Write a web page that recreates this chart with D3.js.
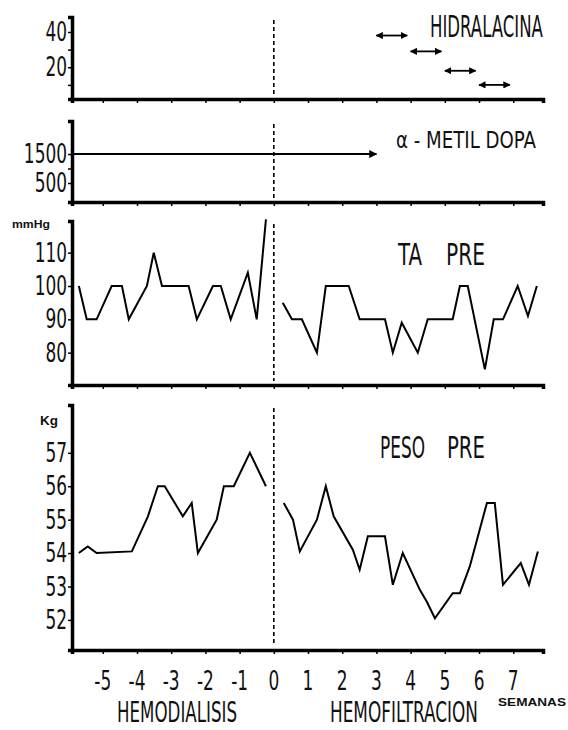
<!DOCTYPE html>
<html>
<head>
<meta charset="utf-8">
<script src="https://cdn.jsdelivr.net/npm/d3@7"></script>
<style>
  body { margin: 0; background: #fff; }
  svg text { font-family: "Liberation Sans Narrow", "DejaVu Sans Condensed", sans-serif; fill: #111; }
</style>
</head>
<body>
<svg id="chart"></svg>
<script>
const width = 568;
const height = 730;

// semanas (0 = paso de hemodialisis a hemofiltracion)
const weekTicks = [-5, -4, -3, -2, -1, 0, 1, 2, 3, 4, 5, 6, 7];

// hidralacina: cada flecha = una semana de tratamiento
const hidraStart = [3, 4, 5, 6];
const hidraEnd = [3.9, 4.9, 5.9, 6.9];
const hidraDose = [38, 29, 18, 10];

// alfa-metil dopa
const dopaStart = -5.9;
const dopaEnd = 3;
const dopaDose = 1500;

// TA pre (mmHg)
const taWeeksHD = [-5.7, -5.47, -5.18, -4.74, -4.44, -4.24, -3.71, -3.51, -3.27, -2.49, -2.25, -1.78, -1.55, -1.26, -0.76, -0.5, -0.23];
const taHD = [100, 90, 90, 100, 100, 90, 100, 110, 100, 100, 90, 100, 100, 90, 104, 90, 120];
const taWeeksHF = [0.26, 0.53, 0.82, 1.26, 1.52, 2.19, 2.51, 3.25, 3.48, 3.74, 4.21, 4.5, 5.23, 5.44, 5.67, 6.17, 6.43, 6.7, 7.13, 7.43, 7.69];
const taHF = [95, 90, 90, 80, 100, 100, 90, 90, 80, 89, 80, 90, 90, 100, 100, 75, 90, 90, 100, 91, 100];

// peso pre (Kg)
const pesoWeeksHD = [-5.7, -5.44, -5.18, -4.15, -3.68, -3.39, -3.19, -2.66, -2.4, -2.22, -1.67, -1.46, -1.17, -0.7, -0.23];
const pesoHD = [54, 54.2, 54, 54.05, 55.1, 56, 56, 55.1, 55.5, 54, 55, 56, 56, 57, 56];
const pesoWeeksHF = [0.29, 0.56, 0.76, 1.26, 1.52, 1.75, 2.31, 2.51, 2.75, 3.25, 3.48, 3.77, 4.27, 4.47, 4.71, 5.23, 5.44, 5.73, 6.23, 6.46, 6.7, 7.22, 7.46, 7.72];
const pesoHF = [55.5, 55, 54.05, 55, 56, 55.1, 54.1, 53.5, 54.5, 54.5, 53.05, 54, 52.9, 52.55, 52.05, 52.8, 52.8, 53.6, 55.5, 55.5, 53.05, 53.7, 53.05, 54.05];

// y ticks
const hidraTicks = [10, 20, 30, 40], hidraLabels = [20, 40];
const dopaTicks = [500, 1000, 1500], dopaLabels = [500, 1500];
const taTicks = [80, 90, 100, 110];
const pesoTicks = [52, 53, 54, 55, 56, 57];

const narrow = 0.7; // the original lettering is very condensed

const svg = d3.select("#chart").attr("width", width).attr("height", height);

const x = d3.scaleLinear().domain([-5.9, 7.87]).range([72, 543]);

const defs = svg.append("defs");
defs.append("marker").attr("id", "head")
  .attr("viewBox", "0 0 10 10").attr("refX", 9).attr("refY", 5)
  .attr("markerWidth", 4).attr("markerHeight", 4)
  .attr("orient", "auto-start-reverse")
  .append("path").attr("d", "M0,0L10,5L0,10z").attr("fill", "#000");

function makePanel(top, bottom, domain, ticks, labels) {
  const y = d3.scaleLinear().domain(domain).range([bottom, top]);
  const g = svg.append("g");

  // dashed divider at week 0
  g.append("line")
    .attr("x1", x(0)).attr("x2", x(0))
    .attr("y1", top + 3).attr("y2", bottom - 4)
    .attr("stroke", "#000").attr("stroke-width", 1.6)
    .attr("stroke-dasharray", "4,3");

  const yAxis = g.append("g")
    .attr("transform", `translate(${x.range()[0]},0)`)
    .call(d3.axisLeft(y).tickValues(ticks).tickSizeOuter(0).tickSize(4).tickPadding(3)
      .tickFormat(d => labels.includes(d) ? d : ""));
  yAxis.select(".domain").attr("stroke-width", 3.5);
  yAxis.selectAll(".tick line").attr("stroke-width", 1.5);
  yAxis.selectAll("text")
    .attr("font-size", 27).attr("fill", "#111")
    .attr("transform", `scale(${narrow},1)`);

  const xAxis = g.append("g")
    .attr("transform", `translate(0,${bottom})`)
    .call(d3.axisBottom(x).tickValues(weekTicks).tickSizeOuter(0).tickSize(4).tickFormat(""));
  xAxis.select(".domain").attr("stroke-width", 3.5);
  xAxis.selectAll(".tick line").attr("stroke-width", 1.5);

  return { g, y };
}

function drawSeries(panel, xs, ys) {
  const line = d3.line().x(d => x(d[0])).y(d => panel.y(d[1]));
  panel.g.append("path")
    .datum(d3.zip(xs, ys))
    .attr("d", line)
    .attr("fill", "none")
    .attr("stroke", "#000")
    .attr("stroke-width", 2)
    .attr("stroke-linejoin", "miter");
}

// text squeezed horizontally so it runs from x0 to x1
function title(str, x0, x1, baseline, size, family, weight) {
  const t = svg.append("text")
    .attr("font-size", size)
    .text(str);
  if (family) t.style("font-family", family);
  if (weight) t.attr("font-weight", weight);
  const w = t.node().getComputedTextLength();
  t.attr("transform", `translate(${x0},${baseline}) scale(${(x1 - x0) / w},1)`);
  return t;
}

// ---- HIDRALACINA
const p1 = makePanel(17, 99, [2, 48.5], hidraTicks, hidraLabels);
p1.g.selectAll(".hidra")
  .data(d3.zip(hidraStart, hidraEnd, hidraDose))
  .join("line")
  .attr("x1", d => x(d[0])).attr("x2", d => x(d[1]))
  .attr("y1", d => p1.y(d[2])).attr("y2", d => p1.y(d[2]))
  .attr("stroke", "#000").attr("stroke-width", 1.8)
  .attr("marker-start", "url(#head)")
  .attr("marker-end", "url(#head)");
title("HIDRALACINA", 430, 543, 37, 30);

// ---- ALFA-METIL DOPA
const p2 = makePanel(121, 202, [-155, 2640], dopaTicks, dopaLabels);
p2.g.append("line")
  .attr("x1", x(dopaStart) + 2).attr("x2", x(dopaEnd))
  .attr("y1", p2.y(dopaDose)).attr("y2", p2.y(dopaDose))
  .attr("stroke", "#000").attr("stroke-width", 2)
  .attr("marker-end", "url(#head)");
title("α - METIL  DOPA", 396, 536, 148, 23);

// ---- TA PRE
const p3 = makePanel(221, 385, [70.3, 119.5], taTicks, taTicks);
drawSeries(p3, taWeeksHD, taHD);
drawSeries(p3, taWeeksHF, taHF);
title("TA", 398, 422, 265, 30);
title("PRE", 446, 485, 265, 30);
title("mmHg", 12, 50, 228, 11, "Liberation Sans, Arial, sans-serif", "bold");

// ---- PESO PRE
const p4 = makePanel(405, 650, [51.1, 58.43], pesoTicks, pesoTicks);
drawSeries(p4, pesoWeeksHD, pesoHD);
drawSeries(p4, pesoWeeksHF, pesoHF);
title("PESO", 380, 425, 458, 30);
title("PRE", 447, 485, 458, 30);
title("Kg", 40, 58, 425, 13, "Liberation Sans, Arial, sans-serif", "bold");

// ---- week labels
svg.append("g").selectAll("text")
  .data(weekTicks)
  .join("text")
  .attr("transform", d => `translate(${x(d)},690) scale(${narrow},1)`)
  .attr("text-anchor", "middle")
  .attr("font-size", 27)
  .text(d => d);

title("HEMODIALISIS", 117, 237, 722, 28);
title("HEMOFILTRACION", 330, 478, 722, 28);
title("SEMANAS", 498, 566, 706, 11, "Liberation Sans, Arial, sans-serif", "bold");
</script>
</body>
</html>
